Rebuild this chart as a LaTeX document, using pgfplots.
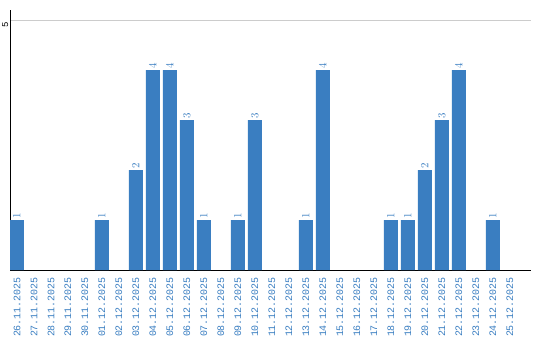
\documentclass[border=0pt]{standalone}
\usepackage{pgfplots}
\pgfplotsset{compat=1.18}
\usepackage{fontspec}
\setmainfont{Liberation Sans}
\newfontfamily\monof{Liberation Mono}
\definecolor{barblue}{RGB}{58,126,193}
\definecolor{gridgray}{RGB}{204,204,204}
\begin{document}
\begin{tikzpicture}[x=1bp,y=1bp]
\useasboundingbox (0,0) rectangle (540,340);
\begin{axis}[
  at={(10bp,70bp)}, anchor=south west,
  scale only axis, width=521bp, height=260bp,
  xmin=-0.41, xmax=30.24, ymin=0, ymax=5.2,
  axis x line*=bottom, axis y line*=left,
  axis line style={black, line width=1bp, -},
  ytick={5}, yticklabels={5},
  ymajorgrids, grid style={gridgray, line width=1bp},
  major tick length=0pt,
  yticklabel style={rotate=90, font=\monof\fontsize{9}{10}\selectfont, black, anchor=south east, inner sep=1.5bp},
  xtick={0,...,29},
  xticklabels={26.11.2025,27.11.2025,28.11.2025,29.11.2025,30.11.2025,01.12.2025,02.12.2025,03.12.2025,04.12.2025,05.12.2025,06.12.2025,07.12.2025,08.12.2025,09.12.2025,10.12.2025,11.12.2025,12.12.2025,13.12.2025,14.12.2025,15.12.2025,16.12.2025,17.12.2025,18.12.2025,19.12.2025,20.12.2025,21.12.2025,22.12.2025,23.12.2025,24.12.2025,25.12.2025},
  xticklabel style={rotate=90, anchor=east, font=\monof\fontsize{10}{11}\selectfont, text=barblue, inner sep=0pt},
  xticklabel shift=7bp,
  restrict y to domain=0.5:10,
  clip=false,
]
\addplot[ybar, bar width=0.82, fill=barblue, draw=none, bar shift=0,
  nodes near coords, nodes near coords style={rotate=90, anchor=west, font=\monof\fontsize{11}{12}\selectfont, text=barblue, inner sep=1.5bp}]
  coordinates {(0,1) (1,0) (2,0) (3,0) (4,0) (5,1) (6,0) (7,2) (8,4) (9,4) (10,3) (11,1) (12,0) (13,1) (14,3) (15,0) (16,0) (17,1) (18,4) (19,0) (20,0) (21,0) (22,1) (23,1) (24,2) (25,3) (26,4) (27,0) (28,1) (29,0)};
\end{axis}
\end{tikzpicture}
\end{document}
